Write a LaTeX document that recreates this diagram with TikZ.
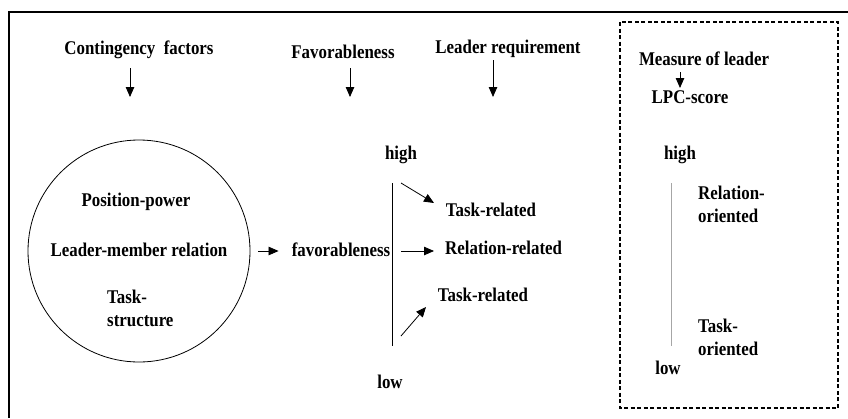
\documentclass[tikz,border=0pt]{standalone}
\usepackage{fontspec}
\setmainfont[FakeStretch=0.87]{Liberation Serif}
\usepackage{tikz}
\usetikzlibrary{arrows.meta}
\tikzstyle{term} = [inner sep=0pt, font=\bfseries\fontsize{19.4}{23}\selectfont, align=left]
\tikzstyle{heading} = [term, anchor=base]
\tikzstyle{factors} = [circle, draw=black, line width=0.8pt, minimum size=222pt, inner sep=0pt]
\tikzstyle{arrow} = [line width=0.8pt, -{Triangle[length=10pt,width=8.5pt]}]
\tikzstyle{scaleline} = [line width=0.8pt]

\begin{document}
\begin{tikzpicture}[x=1pt, y=-1pt]
    \useasboundingbox (0,0) rectangle (848,418);
    % frame
    \draw[line width=1.5pt] (848,12) -- (9,12) -- (9,418);
    \draw[line width=1.2pt, dash pattern=on 4pt off 2.5pt] (620,22) rectangle (838,408);

    % column headings
    \node[heading] (contingency) at (139,54) {Contingency\ \ factors};
    \node[heading] (favor) at (343,58) {Favorableness};
    \node[heading] (requirement) at (508,53) {Leader requirement};
    \node[heading] (measure) at (704,65) {Measure of leader};
    \node[heading] (lpc) at (690,103) {LPC-score};

    \coordinate (contingency1) at (130,68);
    \coordinate (contingency2) at (130,97);
    \coordinate (favor1) at (350,68);
    \coordinate (favor2) at (350,97);
    \coordinate (requirement1) at (493,60);
    \coordinate (requirement2) at (493,97);
    \coordinate (measure1) at (680,72);
    \coordinate (measure2) at (680,88);
    \draw[arrow] (contingency1) -- (contingency2);
    \draw[arrow] (favor1) -- (favor2);
    \draw[arrow] (requirement1) -- (requirement2);
    \draw[arrow] (measure1) -- (measure2);

    % contingency factors
    \node[factors] (situation) at (139,251) {};
    \node[heading] (power) at (136,206) {Position-power};
    \node[heading] (relation) at (139,256) {Leader-member relation};
    \node[term, anchor=west] (structure) at (107,308) {Task-\\structure};

    % favorableness scale
    \node[heading] (favorableness) at (341,256) {favorableness};
    \node[heading] (high) at (401,159) {high};
    \node[heading] (low) at (390,388) {low};
    \coordinate (top) at (392,183);
    \coordinate (bottom) at (392,346);
    \draw[scaleline] (top) -- (bottom);
    \draw[arrow, shorten <=8pt, shorten >=13pt] (situation.east) -- (favorableness.west |- situation.east);

    \node[heading] (taskhigh) at (491,216) {Task-related};
    \node[heading, anchor=base west] (relmid) at (445,254) {Relation-related};
    \node[heading] (tasklow) at (483,301) {Task-related};
    \coordinate (from1) at (401,183);
    \coordinate (to1) at (434,203);
    \coordinate (from2) at (401,251);
    \coordinate (to2) at (434,251);
    \coordinate (from3) at (401,336);
    \coordinate (to3) at (426,307);
    \draw[arrow] (from1) -- (to1);
    \draw[arrow] (from2) -- (to2);
    \draw[arrow] (from3) -- (to3);

    % LPC scale
    \node[heading] (lpchigh) at (680,159) {high};
    \node[heading] (lpclow) at (668,374) {low};
    \node[term, anchor=west] (relori) at (698,204) {Relation-\\oriented};
    \node[term, anchor=west] (taskori) at (698,337) {Task-\\oriented};
    \coordinate (lpctop) at (671,183);
    \coordinate (lpcbottom) at (671,346);
    \draw[scaleline, draw=gray!70] (lpctop) -- (lpcbottom);
\end{tikzpicture}
\end{document}
